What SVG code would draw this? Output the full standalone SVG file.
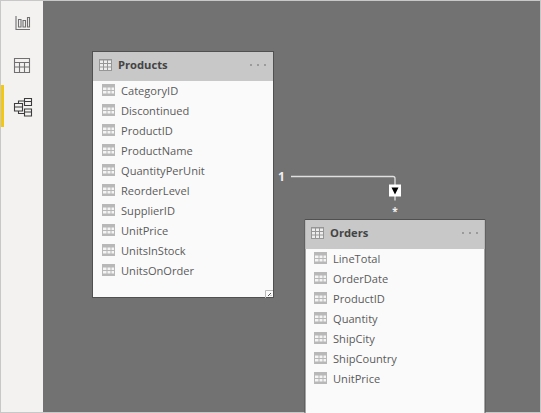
<svg xmlns="http://www.w3.org/2000/svg" width="541" height="413" viewBox="0 0 541 413">
<style>
.f{font-family:"Open Sans","Liberation Sans",sans-serif;font-size:11.1px;fill:#5a5a5a}
.t{font-family:"Open Sans","Liberation Sans",sans-serif;font-size:11.2px;font-weight:700;fill:#444}
.card{fill:#fafafa;stroke:#505050;stroke-width:1}
.head{fill:#c8c8c8}
.dots{fill:#858585}
.ic{stroke:#707070;fill:none;stroke-width:1.1}
.ib{stroke:#3c3c3c;fill:none;stroke-width:1.1}
</style>
<defs>
<g id="fi"><rect x="0" y="0" width="13" height="12" fill="#b8b8b8"/><path d="M1 3.500h3.500v2.500H1zM5.500 3.500h3v2.500h-3zM9.500 3.500h2.500v2.500H9.500zM1 7h3.500v2.500H1zM5.500 7h3v2.500h-3zM9.500 7h2.500v2.500H9.500z" fill="#f4f4f4"/></g>
<g id="hi"><rect x="0" y="0" width="13" height="12" fill="#969696"/><path d="M1 1.500h3V4H1zM5 1.500h3V4H5zM9 1.500h3V4H9zM1 5h3v2.500H1zM5 5h3v2.500H5zM9 5h3v2.500H9zM1 8.500h3V11H1zM5 8.500h3V11H5zM9 8.500h3V11H9z" fill="#ededed"/></g>
<g id="d"><circle cx="0" cy="0" r=".9" class="dots"/><circle cx="7" cy="0" r=".9" class="dots"/><circle cx="14" cy="0" r=".9" class="dots"/></g>
</defs>
<rect width="541" height="413" fill="#c8c8c8"/>
<rect x="1" y="1" width="42" height="411" fill="#f3f2f1"/>
<rect x="43" y="1" width="497" height="411" fill="#727272"/>
<g id="sidebar">
<rect x="1" y="85" width="3" height="42" fill="#f2c811"/>
<path class="ic" d="M16 16v13.500h14M18.500 19.500h2.500v7.500h-2.500zM23 20.500h2.500v6.500H23zM27.500 17.500h2v9.500h-2z"/>
<path class="ic" d="M14.500 58.500h15v14h-15zM14.500 62.500h15M14.500 67h15M19.500 62.500v10M24.500 62.500v10"/>
<path class="ib" d="M14.500 103.500h8v7.500h-8zM24.500 98.500h7v7h-7zM24.500 109h7v7h-7zM18.500 103.500v-2.500h6M18.500 111v2.500h6M14.500 107h8M24.500 101.500h7M24.500 112h7"/>
</g>
<g id="connectors">
<path d="M291 176.500H393a2 2 0 0 1 2 2V200.500" fill="none" stroke="#e0e0e0" stroke-width="1.300"/>
</g>
<g id="relationship">
<rect x="389" y="184.500" width="12" height="12" fill="#fff"/>
<path d="M391.500 187.500h7l-3.500 7z" fill="#000"/>
<text x="278" y="181" font-family="'Open Sans','Liberation Sans',sans-serif" font-size="12" font-weight="700" fill="#f0f0f0">1</text>
<text x="395" y="215" text-anchor="middle" font-family="'Open Sans','Liberation Sans',sans-serif" font-size="10" font-weight="700" fill="#f0f0f0">*</text>
</g>
<g id="products">
<rect class="card" x="92.500" y="51.500" width="181" height="246"/>
<rect class="head" x="93" y="52" width="180" height="29"/>
<use href="#hi" x="99" y="59"/>
<text class="t" x="118" y="69">Products</text>
<use href="#d" x="251" y="65"/>
<use href="#fi" x="102" y="84"/><text class="f" x="121" y="94.500">CategoryID</text>
<use href="#fi" x="102" y="104"/><text class="f" x="121" y="114.500">Discontinued</text>
<use href="#fi" x="102" y="124"/><text class="f" x="121" y="134.500">ProductID</text>
<use href="#fi" x="102" y="144"/><text class="f" x="121" y="154.500">ProductName</text>
<use href="#fi" x="102" y="164"/><text class="f" x="121" y="174.500">QuantityPerUnit</text>
<use href="#fi" x="102" y="184"/><text class="f" x="121" y="194.500">ReorderLevel</text>
<use href="#fi" x="102" y="204"/><text class="f" x="121" y="214.500">SupplierID</text>
<use href="#fi" x="102" y="224"/><text class="f" x="121" y="234.500">UnitPrice</text>
<use href="#fi" x="102" y="244"/><text class="f" x="121" y="254.500">UnitsInStock</text>
<use href="#fi" x="102" y="264"/><text class="f" x="121" y="274.500">UnitsOnOrder</text>
<path d="M265.500 298v-7.500h7.500" fill="none" stroke="#bbb"/>
<path d="M268 296l3-3M270.500 296l.5-.5" stroke="#555" fill="none"/>
</g>
<g id="orders">
<path class="card" d="M305 413V219.500h180V413"/>
<rect class="head" x="305.500" y="220" width="179" height="29"/>
<use href="#hi" x="311" y="227"/>
<text class="t" x="330" y="237">Orders</text>
<use href="#d" x="463" y="233"/>
<use href="#fi" x="314" y="252"/><text class="f" x="333" y="262.500">LineTotal</text>
<use href="#fi" x="314" y="272"/><text class="f" x="333" y="282.500">OrderDate</text>
<use href="#fi" x="314" y="292"/><text class="f" x="333" y="302.500">ProductID</text>
<use href="#fi" x="314" y="312"/><text class="f" x="333" y="322.500">Quantity</text>
<use href="#fi" x="314" y="332"/><text class="f" x="333" y="342.500">ShipCity</text>
<use href="#fi" x="314" y="352"/><text class="f" x="333" y="362.500">ShipCountry</text>
<use href="#fi" x="314" y="372"/><text class="f" x="333" y="382.500">UnitPrice</text>
</g>
</svg>
